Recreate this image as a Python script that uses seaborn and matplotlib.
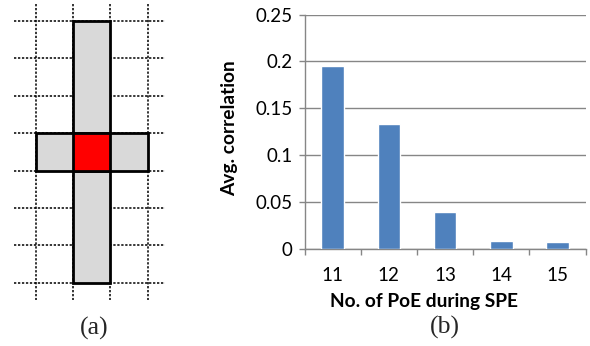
import matplotlib
matplotlib.use("Agg")
import matplotlib.pyplot as plt
from matplotlib.patches import Rectangle
from matplotlib.ticker import FixedLocator
import seaborn as sns
import pandas as pd

# Panel (b) data: average correlation per number of PoE during SPE
poe_counts = ["11", "12", "13", "14", "15"]
avg_correlation = [0.195, 0.133, 0.040, 0.009, 0.008]
y_ticks = [0, 0.05, 0.1, 0.15, 0.2, 0.25]
y_tick_labels = ["0", "0.05", "0.1", "0.15", "0.2", "0.25"]

# Panel (a) layout: dotted lattice and the cross-shaped neighbourhood
grid_cols = 4          # vertical dotted lines
grid_rows = 8          # horizontal dotted lines
vertical_arm = (1, 0, 1, 7)     # (col, row, width, height) in cells
horizontal_arm = (0, 3, 3, 1)
center_cell = (1, 3, 1, 1)

sns.set_theme(style="white")
plt.rcParams["font.family"] = ["Lato", "DejaVu Sans"]

W, H = 590, 346
fig = plt.figure(figsize=(W / 100, H / 100), dpi=100)

# ---------------- panel (a) ----------------
unit = 37.4
gx0, gy0 = 35.7, 21.0
ax_a = fig.add_axes([0, 0, 200 / W, 1])
ax_a.set_xlim(-gx0 / unit, (200 - gx0) / unit)
ax_a.set_ylim((H - gy0) / unit, -gy0 / unit)
ax_a.axis("off")

dot = dict(color="black", lw=1.1, linestyle=(0, (1.5, 1.1)), zorder=1)
for r in range(grid_rows):
    ax_a.plot([-0.58, 3.46], [r, r], **dot)
for c in range(grid_cols):
    ax_a.plot([c, c], [-0.46, 7.46], **dot)

edge = dict(edgecolor="black", lw=2.0, joinstyle="miter")
for (c, r, w, h), fc in [(vertical_arm, "#d9d9d9"),
                         (horizontal_arm, "#d9d9d9"),
                         (center_cell, "#ff0000")]:
    ax_a.add_patch(Rectangle((c, r), w, h, facecolor=fc, zorder=3, **edge))

fig.text(94 / W, 1 - 328 / H, "(a)", ha="center", va="center",
         family="Liberation Serif", fontsize=18.5)

# ---------------- panel (b) ----------------
left, right, top, bottom = 304.5, 585.7, 14.5, 249.3
ax = fig.add_axes([left / W, 1 - bottom / H, (right - left) / W, (bottom - top) / H])
df = pd.DataFrame({"poe": poe_counts, "corr": avg_correlation})
sns.barplot(data=df, x="poe", y="corr", color="#4f81bd", saturation=1,
            width=0.4, ax=ax, zorder=3)

grey = "#868686"
ax.set_xlim(-0.5, len(poe_counts) - 0.5)
ax.set_ylim(0, 0.25)
ax.set_yticks(y_ticks)
ax.set_yticklabels(y_tick_labels)
ax.yaxis.grid(True, color=grey, lw=1.0, zorder=0)
ax.set_axisbelow(True)
for s in ["top", "right"]:
    ax.spines[s].set_visible(False)
for s in ["left", "bottom"]:
    ax.spines[s].set_color(grey)
    ax.spines[s].set_linewidth(1.0)

ax.xaxis.set_minor_locator(FixedLocator([i - 0.5 for i in range(len(poe_counts) + 1)]))
ax.tick_params(axis="x", which="major", length=0, pad=13, labelsize=13.5, labelcolor="black")
ax.tick_params(axis="x", which="minor", length=4.5, width=1.0, color=grey, direction="out", bottom=True)
ax.tick_params(axis="y", length=4.5, width=1.0, color=grey, direction="out", left=True,
               pad=4, labelsize=13.5, labelcolor="black")

ax.set_xlabel("No. of PoE during SPE", fontsize=13.8, fontweight="bold", color="black")
ax.xaxis.set_label_coords((424 - left) / (right - left), (bottom - 301) / (bottom - top))
ax.xaxis.label.set_verticalalignment("center")
ax.set_ylabel("Avg. correlation", fontsize=13.8, fontweight="bold", color="black")
ax.yaxis.set_label_coords((230 - left) / (right - left), (bottom - 128) / (bottom - top))
ax.yaxis.label.set_verticalalignment("center")

fig.text(445 / W, 1 - 327 / H, "(b)", ha="center", va="center",
         family="Liberation Serif", fontsize=18.5)

fig.savefig("out.png", dpi=100)
